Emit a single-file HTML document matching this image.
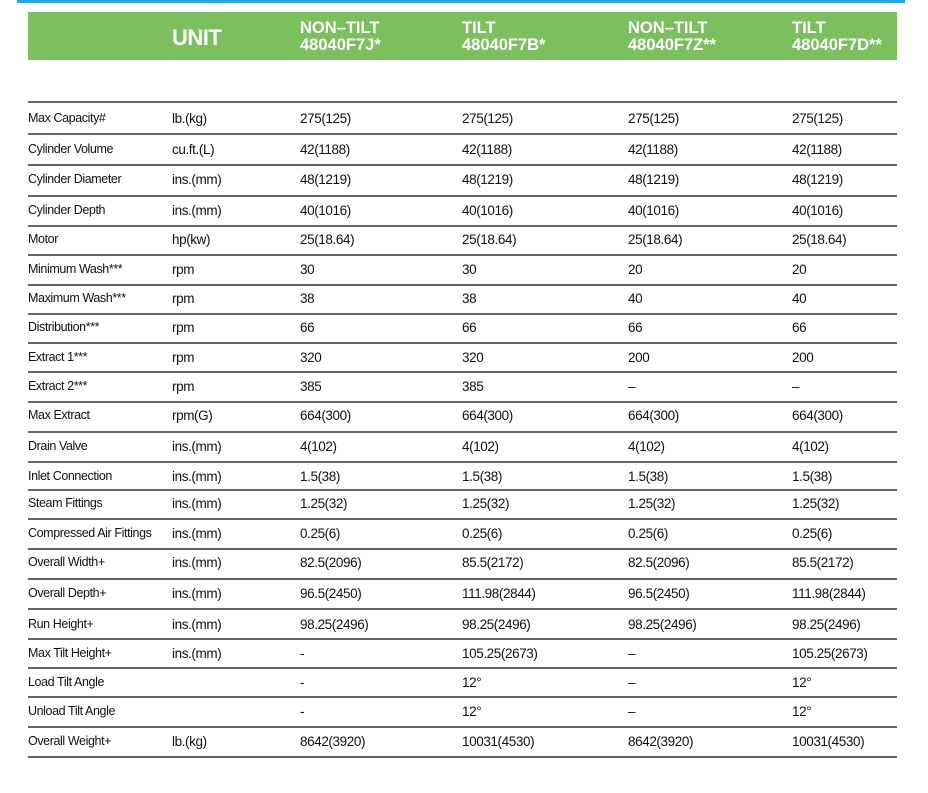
<!DOCTYPE html>
<html><head><meta charset="utf-8"><style>
body{margin:0;width:928px;height:793px;background:#fff;position:relative;overflow:hidden;font-family:"Liberation Sans",sans-serif;}
.blue{position:absolute;left:17px;top:0;width:888px;height:3px;background:#2aa6e8;}
.green{position:absolute;left:28px;top:12px;width:869px;height:48px;background:#7cbf5e;}
.h{position:absolute;color:#fff;font-weight:bold;}
.hl{font-size:16.5px;line-height:17px;top:20px;letter-spacing:0;}
.line{position:absolute;left:28px;width:869px;height:2px;background:#666;}
.t{position:absolute;color:#111;letter-spacing:-0.4px;white-space:nowrap;}
</style></head><body>
<div class="blue"></div>
<div class="green"></div>
<div class="h" style="left:172px;top:25px;font-size:22px;letter-spacing:-0.5px;">UNIT</div>
<div class="h hl" style="left:300px">NON–TILT<br>48040F7J*</div>
<div class="h hl" style="left:462px">TILT<br>48040F7B*</div>
<div class="h hl" style="left:628px">NON–TILT<br>48040F7Z**</div>
<div class="h hl" style="left:792px">TILT<br>48040F7D**</div>
<div id="rows"></div>
<script>
var d=[["Max Capacity#","lb.(kg)","275(125)","275(125)","275(125)","275(125)"],
["Cylinder Volume","cu.ft.(L)","42(1188)","42(1188)","42(1188)","42(1188)"],
["Cylinder Diameter","ins.(mm)","48(1219)","48(1219)","48(1219)","48(1219)"],
["Cylinder Depth","ins.(mm)","40(1016)","40(1016)","40(1016)","40(1016)"],
["Motor","hp(kw)","25(18.64)","25(18.64)","25(18.64)","25(18.64)"],
["Minimum Wash***","rpm","30","30","20","20"],
["Maximum Wash***","rpm","38","38","40","40"],
["Distribution***","rpm","66","66","66","66"],
["Extract 1***","rpm","320","320","200","200"],
["Extract 2***","rpm","385","385","–","–"],
["Max Extract","rpm(G)","664(300)","664(300)","664(300)","664(300)"],
["Drain Valve","ins.(mm)","4(102)","4(102)","4(102)","4(102)"],
["Inlet Connection","ins.(mm)","1.5(38)","1.5(38)","1.5(38)","1.5(38)"],
["Steam Fittings","ins.(mm)","1.25(32)","1.25(32)","1.25(32)","1.25(32)"],
["Compressed Air Fittings","ins.(mm)","0.25(6)","0.25(6)","0.25(6)","0.25(6)"],
["Overall Width+","ins.(mm)","82.5(2096)","85.5(2172)","82.5(2096)","85.5(2172)"],
["Overall Depth+","ins.(mm)","96.5(2450)","111.98(2844)","96.5(2450)","111.98(2844)"],
["Run Height+","ins.(mm)","98.25(2496)","98.25(2496)","98.25(2496)","98.25(2496)"],
["Max Tilt Height+","ins.(mm)","-","105.25(2673)","–","105.25(2673)"],
["Load Tilt Angle","","-","12°","–","12°"],
["Unload Tilt Angle","","-","12°","–","12°"],
["Overall Weight+","lb.(kg)","8642(3920)","10031(4530)","8642(3920)","10031(4530)"]];
var ty=[119,150,180,211,240,270,299,328,358,387,416,447,477,504,534,563,594,625,654,683,712,742];
var ly=[102,134,165,196,226,255,285,314,343,372,402,432,462,490,519,549,579,609,639,668,697,727,757];
var xs=[28,172,300,462,628,792],h="";
ly.forEach(function(y){h+='<div class="line" style="top:'+(y-1)+'px"></div>';});
d.forEach(function(r,i){r.forEach(function(c,j){h+='<div class="t" style="left:'+xs[j]+'px;top:'+(ty[i]-8)+'px;font-size:'+(j==0?'12.5':'13.5')+'px;">'+c+'</div>';});});
document.getElementById('rows').innerHTML=h;
</script>
</body></html>
